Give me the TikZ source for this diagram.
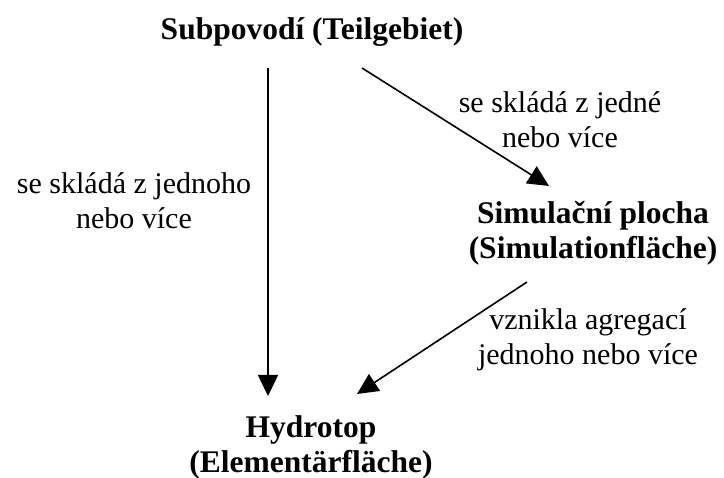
\documentclass[tikz,border=0pt]{standalone}
\usepackage{fontspec}
\setmainfont{Liberation Serif}
\usetikzlibrary{arrows.meta}
\begin{document}
\begin{tikzpicture}[x=1pt,y=-1pt,
  txt/.style={font=\fontsize{30}{35}\selectfont, align=center, inner sep=0pt},
  bold/.style={txt, font=\fontsize{31.5}{35}\selectfont\bfseries},
  arr/.style={line width=1.6pt, -{Triangle[length=21pt,width=20pt]}}]
\useasboundingbox (0,0) rectangle (724,478);
\node[bold] (title) at (312,32) {Subpovodí (Teilgebiet)};
\node[bold] (sim) at (593,233) {Simulační plocha\\(Simulationfläche)};
\node[bold] (hydro) at (311,447) {Hydrotop\\(Elementärfläche)};
\node[txt] (l1) at (134,201) {se skládá z jednoho\\nebo více};
\node[txt] (l2) at (560,120) {se skládá z jedné\\nebo více};
\node[txt] (l3) at (588,340) {vznikla agregací\\jednoho nebo více};
\coordinate (a1s) at (268,68);
\coordinate (a1e) at (268,396);
\coordinate (a2s) at (362,68);
\coordinate (a2e) at (549,186);
\coordinate (a3s) at (527,282);
\coordinate (a3e) at (357,394);
\draw[arr] (a1s) -- (a1e);
\draw[arr] (a2s) -- (a2e);
\draw[arr] (a3s) -- (a3e);
\end{tikzpicture}
\end{document}
